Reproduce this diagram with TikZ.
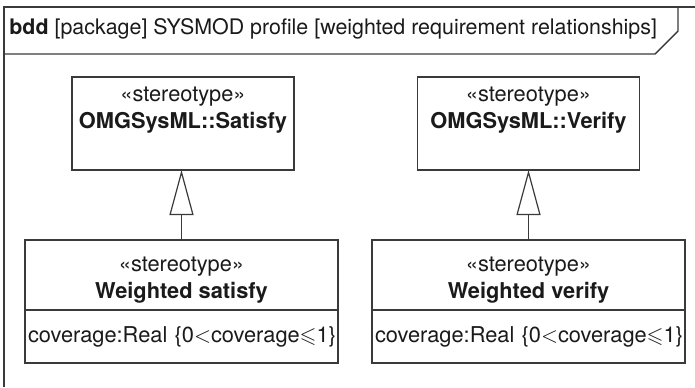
\documentclass[tikz,border=0pt]{standalone}
\usepackage{fontspec}
\setmainfont{TeX Gyre Heros}
\usepackage{amssymb}
\usetikzlibrary{arrows.meta,positioning}
\definecolor{LineGray}{HTML}{3A3A3A}
\definecolor{InkBlack}{HTML}{1A1A1A}
\tikzset{
  stereobox/.style={draw=LineGray, line width=0.7pt, outer sep=0pt, inner sep=0pt, minimum width=111pt, minimum height=46.5pt},
  blockbox/.style={draw=LineGray, line width=0.7pt, outer sep=0pt, inner sep=0pt, minimum width=156.5pt, minimum height=35pt},
  attrbox/.style={draw=LineGray, line width=0.7pt, outer sep=0pt, inner xsep=1.5pt, inner ysep=0pt, minimum height=26.5pt, text width=153.5pt, align=left, text=InkBlack},
  nametext/.style={align=center, inner sep=0pt, text=InkBlack},
  generalize/.style={-{Triangle[open, length=22.5pt, width=12pt]}, line width=0.6pt, draw=LineGray},
  frameline/.style={draw=LineGray, line width=0.7pt}
}

\begin{document}
\begin{tikzpicture}[x=0.5pt, y=-0.5pt, every node/.style={font=\fontsize{10.9}{13.5}\selectfont}]
\useasboundingbox (0,0) rectangle (695,387);
% diagram frame and name tab
\draw[frameline] (4,387) -- (4,7) -- (695,7);
\draw[frameline] (4,54) -- (655,54) -- (678,31) -- (678,7);
\node[anchor=west, inner sep=0pt, text=InkBlack, font=\fontsize{10.7}{13}\selectfont] (title) at (9,29) {\textbf{bdd} [package] SYSMOD profile [weighted requirement relationships]};

% SysML stereotypes
\node[stereobox] (satisfy) at (183,123.5) {};
\node[nametext] (satisfytext) at (183,110) {«stereotype»\\\textbf{OMGSysML::Satisfy}};
\node[stereobox] (verify) at (528.5,123.5) {};
\node[nametext] (verifytext) at (528.5,110) {«stereotype»\\\textbf{OMGSysML::Verify}};

% weighted stereotypes
\node[blockbox] (wsatisfy) at (181.5,275) {};
\node[nametext] (wsatisfytext) at (181.5,280.5) {«stereotype»\\\textbf{Weighted satisfy}};
\node[attrbox, below=0pt of wsatisfy] (wsatisfyattr) {\mbox{coverage:Real \{0$<$coverage$\leqslant$1\}}};
\node[blockbox] (wverify) at (528.5,275) {};
\node[nametext] (wverifytext) at (528.5,280.5) {«stereotype»\\\textbf{Weighted verify}};
\node[attrbox, below=0pt of wverify] (wverifyattr) {\mbox{coverage:Real \{0$<$coverage$\leqslant$1\}}};

% generalizations
\draw[generalize] (wsatisfy.north) -- (wsatisfy.north |- satisfy.south);
\draw[generalize] (wverify.north) -- (wverify.north |- verify.south);
\end{tikzpicture}
\end{document}
